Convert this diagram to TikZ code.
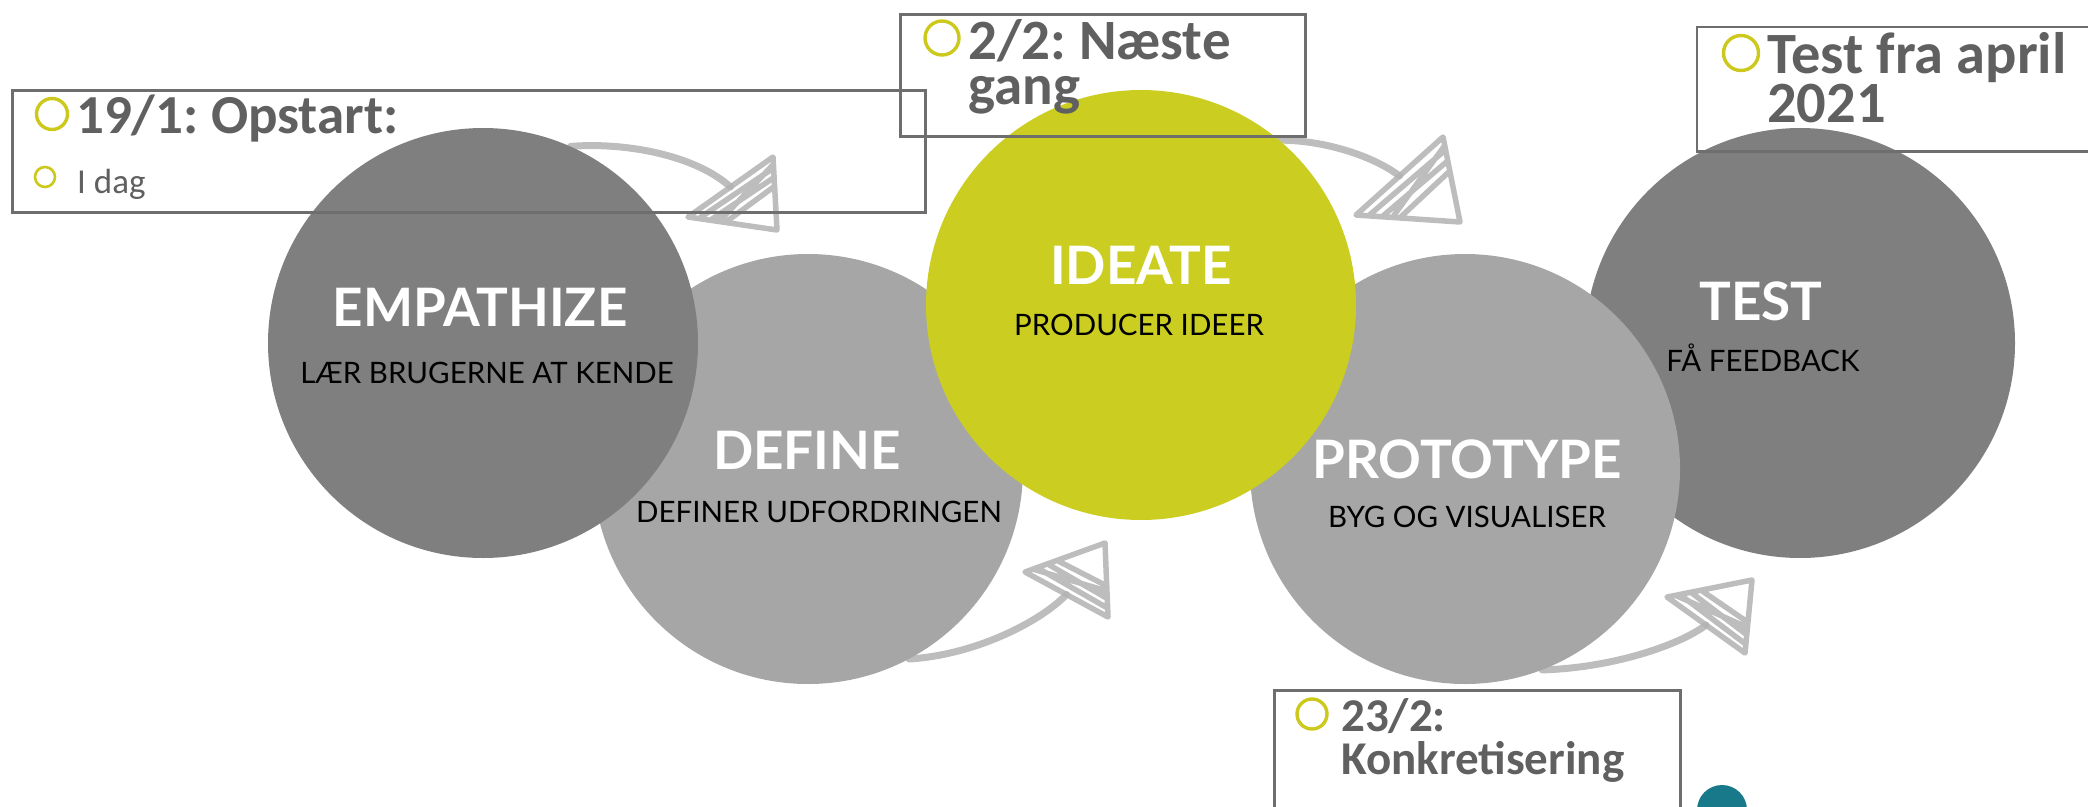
\documentclass[tikz,border=0pt]{standalone}
\usepackage{fontspec}
\setmainfont{Carlito}
\newfontfamily\stagefont{Lato}
\usetikzlibrary{calc,backgrounds}
\frenchspacing

\definecolor{darkg}{HTML}{7F7F7F}
\definecolor{lightg}{HTML}{A6A6A6}
\definecolor{lime}{HTML}{CBCE21}
\definecolor{bulletc}{HTML}{CCC91C}
\definecolor{framec}{HTML}{6E6E6E}
\definecolor{notec}{HTML}{606060}
\definecolor{sketchc}{HTML}{B2B2B2}
\definecolor{tealc}{HTML}{17798A}

\tikzset{
  stage/.style={circle, inner sep=0pt, draw=none, minimum size=430pt},
  stagehead/.style={anchor=base, inner sep=0pt, text=white,
    font=\stagefont\bfseries\fontsize{53pt}{58pt}\selectfont},
  stagesub/.style={anchor=base, inner sep=0pt, text=black,
    font=\stagefont\fontsize{29.5pt}{33pt}\selectfont},
  notebox/.style={draw=framec, line width=2.6pt, anchor=north west,
    inner sep=0pt, fill=none},
  frameline/.style={draw=framec, line width=2.6pt},
  notetext/.style={anchor=base west, inner sep=0pt, text=notec},
  bulletmark/.style={circle, draw=bulletc, line width=3.4pt, inner sep=0pt},
  sketchline/.style={draw=sketchc, line width=7pt, line cap=round,
    line join=round, opacity=0.85},
  sketchhead/.style={draw=sketchc, line width=5.5pt, line cap=round,
    line join=round, opacity=0.85},
  % #1 = base corner, #2 = other base corner, #3 = tip
  headshape/.style n args={3}{insert path={
    (#1) -- (#3) -- (#2) -- cycle
    ($(#1)!0.15!(#3)$) -- ($(#2)!0.12!(#3)$)
    ($(#1)!0.28!(#3)$) -- ($(#2)!0.25!(#3)$)
    ($(#1)!0.40!(#3)$) -- ($(#2)!0.42!(#3)$)
    ($(#1)!0.10!(#3)$) -- ($(#2)!0.35!(#3)$)
  }},
}

\begin{document}
\begin{tikzpicture}[x=1pt, y=-1pt]
\useasboundingbox (0,0) rectangle (2088,806);

% ---- stage circles (stacking order: define, test, empathize, prototype, ideate)
\node[stage, fill=lightg] (def) at (808,469) {};
\node[stage, fill=darkg]  (tst) at (1800,343) {};
\node[stage, fill=darkg]  (emp) at (483,343) {};
\node[stage, fill=lightg] (pro) at (1465,469) {};
\node[stage, fill=lime]   (ide) at (1141,305) {};

% ---- sketched arrows between the stages, behind the circles
\coordinate (h1a) at (773,157);
\coordinate (h1b) at (688,217);
\coordinate (h1t) at (777,230);
\coordinate (h2a) at (1025,572);
\coordinate (h2b) at (1108,617);
\coordinate (h2t) at (1105,543);
\coordinate (h3a) at (1443,137);
\coordinate (h3b) at (1356,215);
\coordinate (h3t) at (1460,222);
\coordinate (h4a) at (1667,597);
\coordinate (h4b) at (1745,653);
\coordinate (h4t) at (1752,580);
\begin{scope}[on background layer]
  % empathize -> define
  \draw[sketchline] (emp.66) .. controls (625,142) and (695,155) .. ($(h1a)!0.5!(h1b)$);
  \draw[sketchhead, headshape={h1a}{h1b}{h1t}];
  % define -> ideate
  \draw[sketchline] (def.-62) .. controls (975,655) and (1040,622) .. ($(h2a)!0.5!(h2b)$);
  \draw[sketchhead, headshape={h2a}{h2b}{h2t}];
  % ideate -> prototype
  \draw[sketchline] (ide.50) .. controls (1322,140) and (1372,155) .. ($(h3a)!0.5!(h3b)$);
  \draw[sketchhead, headshape={h3a}{h3b}{h3t}];
  % prototype -> test
  \draw[sketchline] (pro.-69) .. controls (1612,668) and (1680,645) .. ($(h4a)!0.5!(h4b)$);
  \draw[sketchhead, headshape={h4a}{h4b}{h4t}];
\end{scope}

% ---- stage titles
\node[stagehead] (empH) at (480,326) {EMPATHIZE};
\node[stagesub]  (empS) at (487,383) {LÆR BRUGERNE AT KENDE};
\node[stagehead] (defH) at (807,469) {DEFINE};
\node[stagesub]  (defS) at (819,522) {DEFINER UDFORDRINGEN};
\node[stagehead] (ideH) at (1141,284) {IDEATE};
\node[stagesub]  (ideS) at (1139,335) {PRODUCER IDEER};
\node[stagehead] (proH) at (1467,478) {PROTOTYPE};
\node[stagesub]  (proS) at (1467,527) {BYG OG VISUALISER};
\node[stagehead] (tstH) at (1761,320) {TEST};
\node[stagesub]  (tstS) at (1763,371) {FÅ FEEDBACK};

% ---- small teal mark at the lower edge
\node[circle, fill=tealc, inner sep=0pt, minimum size=50pt] (dot) at (1722,810) {};

% ---- schedule notes
% 19/1
\node[notebox, minimum width=913pt, minimum height=122pt] (n1) at (11,89) {};
\node[bulletmark, minimum size=31pt] (n1b) at (52,114) {};
\node[notetext, font=\bfseries\fontsize{55pt}{60pt}\selectfont] (n1t) at (76,133) {19/1: Opstart:};
\node[bulletmark, minimum size=20pt, line width=2.6pt] (n1c) at (45,177) {};
\node[notetext, font=\fontsize{35pt}{40pt}\selectfont] (n1s) at (77,193) {I dag};
% 2/2
\node[notebox, minimum width=405pt, minimum height=122pt] (n2) at (899,13) {};
\node[bulletmark, minimum size=34pt] (n2b) at (942,38) {};
\node[notetext, font=\bfseries\fontsize{57pt}{60pt}\selectfont] (n2t) at (968,59) {2/2: Næste};
\node[notetext, font=\bfseries\fontsize{57pt}{60pt}\selectfont] (n2u) at (968,104) {gang};
% test from april: the frame runs past the right edge
\node[notebox, draw=none, minimum width=460pt, minimum height=122pt] (n3) at (1697,27) {};
\draw[frameline] (n3.north east) -- (n3.north west) -- (n3.south west) -- (n3.south east);
\node[bulletmark, minimum size=35pt] (n3b) at (1741,53) {};
\node[notetext, font=\bfseries\fontsize{58.5pt}{60pt}\selectfont] (n3t) at (1767,73) {Test fra april};
\node[notetext, font=\bfseries\fontsize{58.5pt}{60pt}\selectfont] (n3u) at (1767,122) {2021};
% 23/2: the frame runs past the lower edge
\node[notebox, minimum width=406pt, minimum height=140pt] (n4) at (1273,689) {};
\node[bulletmark, minimum size=30pt] (n4b) at (1312,714) {};
\node[notetext, font=\bfseries\fontsize{47pt}{50pt}\selectfont] (n4t) at (1341,731) {23/2:};
\node[notetext, font=\bfseries\fontsize{47pt}{50pt}\selectfont] (n4u) at (1341,774) {Konkretisering};
\end{tikzpicture}
\end{document}
